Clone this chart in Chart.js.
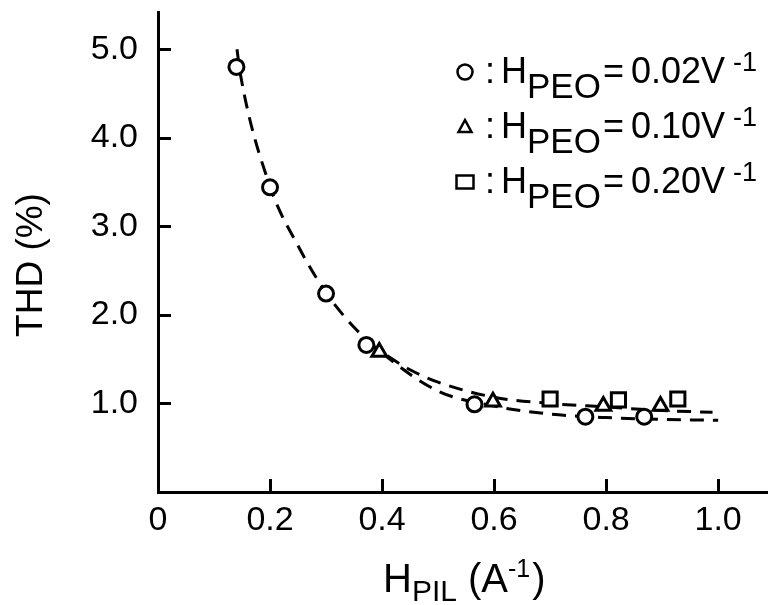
<!DOCTYPE html>
<html lang="en">
<head>
<meta charset="UTF-8" />
<title>THD vs H_PIL</title>
<script src="https://cdn.jsdelivr.net/npm/chart.js"></script>
<style>
  * { margin: 0; padding: 0; box-sizing: border-box; }
  body { background: #fff; width: 768px; height: 605px; overflow: hidden; }
  canvas { display: block; }
</style>
</head>
<body>
<canvas id="thdChart" width="768" height="605"></canvas>
<script>
  const circleX = [0.14, 0.20, 0.30, 0.372, 0.565, 0.763, 0.868];
  const circleY = [4.80, 3.44, 2.24, 1.66, 0.99, 0.85, 0.85];
  const triangleX = [0.395, 0.598, 0.795, 0.897];
  const triangleY = [1.58, 1.02, 0.97, 0.97];
  const squareX = [0.70, 0.822, 0.928];
  const squareY = [1.05, 1.04, 1.05];

  // dashed fit curves
  const fitLowX = [0.141, 0.147, 0.20, 0.25, 0.30, 0.35, 0.40, 0.50, 0.60, 0.70, 0.80, 0.90, 1.00];
  const fitLowY = [5.00, 4.72, 3.45, 2.78, 2.25, 1.86, 1.57, 1.14, 0.97, 0.88, 0.84, 0.82, 0.81];
  const fitHighX = [0.375, 0.45, 0.50, 0.60, 0.70, 0.80, 0.90, 0.99];
  const fitHighY = [1.68, 1.38, 1.24, 1.07, 1.00, 0.96, 0.92, 0.90];

  const xTicks = [0, 0.2, 0.4, 0.6, 0.8, 1.0];
  const xTickLabels = ['0', '0.2', '0.4', '0.6', '0.8', '1.0'];
  const yTicks = [1, 2, 3, 4, 5];
  const yTickLabels = ['1.0', '2.0', '3.0', '4.0', '5.0'];

  const legendShapes = ['circle', 'triangle', 'rect'];
  const legendValues = ['0.02', '0.10', '0.20'];

  const FONT = '"Liberation Sans", Arial, Helvetica, sans-serif';

  const pts = (xs, ys) => xs.map((x, i) => ({ x: x, y: ys[i] }));

  function drawShape(ctx, shape, x, y) {
    ctx.beginPath();
    if (shape === 'circle') {
      ctx.arc(x, y, 7.5, 0, Math.PI * 2);
    } else if (shape === 'triangle') {
      ctx.moveTo(x, y - 7);
      ctx.lineTo(x + 6.5, y + 5);
      ctx.lineTo(x - 6.5, y + 5);
      ctx.closePath();
    } else {
      ctx.rect(x - 8.5, y - 6.5, 17, 13);
    }
    ctx.fill();
    ctx.stroke();
  }

  // pieces of text with sub/superscripts
  function drawRich(ctx, parts, x, y) {
    parts.forEach(p => {
      ctx.font = p.size + 'px ' + FONT;
      x += p.gap || 0;
      ctx.fillText(p.t, x, y + (p.dy || 0));
      x += ctx.measureText(p.t).width;
    });
    return x;
  }

  const noPad = s => { s.paddingTop = 0; s.paddingBottom = 0; s.paddingLeft = 0; s.paddingRight = 0; };

  const decorations = {
    id: 'decorations',
    afterDraw(chart) {
      const ctx = chart.ctx;
      const xs = chart.scales.x, ys = chart.scales.y;
      const area = chart.chartArea;
      ctx.save();
      ctx.strokeStyle = '#000';
      ctx.fillStyle = '#000';
      ctx.lineWidth = 3;

      // inward tick marks
      ctx.beginPath();
      xTicks.forEach(v => {
        if (v === 0) return;
        const px = Math.round(xs.getPixelForValue(v)) + 0.5;
        ctx.moveTo(px, area.bottom);
        ctx.lineTo(px, area.bottom - 13);
      });
      yTicks.forEach(v => {
        const py = Math.round(ys.getPixelForValue(v)) + 0.5;
        ctx.moveTo(area.left, py);
        ctx.lineTo(area.left + 13, py);
      });
      ctx.stroke();

      // y title
      ctx.save();
      ctx.translate(42, 265);
      ctx.rotate(-Math.PI / 2);
      ctx.font = '37px ' + FONT;
      ctx.textAlign = 'center';
      ctx.textBaseline = 'alphabetic';
      ctx.fillText('THD (%)', 0, 0);
      ctx.restore();

      // x title
      ctx.textAlign = 'left';
      ctx.textBaseline = 'alphabetic';
      drawRich(ctx, [
        { t: 'H', size: 40 },
        { t: 'PIL', size: 30, dy: 9 },
        { t: ' (A', size: 40 },
        { t: '-1', size: 25, dy: -15 },
        { t: ')', size: 40, gap: 2 }
      ], 383, 592);

      // legend
      const rows = [83, 138, 193];
      legendShapes.forEach((shape, i) => {
        const by = rows[i];
        ctx.fillStyle = '#fff';
        ctx.lineWidth = 2.5;
        drawShape(ctx, shape, 465, by - 11);
        ctx.fillStyle = '#000';
        drawRich(ctx, [
          { t: ':', size: 36 },
          { t: 'H', size: 36, gap: 6 },
          { t: 'PEO', size: 35, dy: 15 },
          { t: '=', size: 36, gap: 2 },
          { t: legendValues[i] + 'V', size: 36, gap: 7 },
          { t: '-1', size: 27, dy: -12, gap: 8 }
        ], 485, by);
      });
      ctx.restore();
    }
  };

  const ctx = document.getElementById('thdChart').getContext('2d');
  new Chart(ctx, {
    type: 'scatter',
    data: {
      datasets: [
        {
          label: 'circles',
          data: pts(circleX, circleY),
          pointStyle: 'circle',
          pointRadius: 7.5,
          pointBorderWidth: 3,
          pointBackgroundColor: '#fff',
          pointBorderColor: '#000',
          order: 0
        },
        {
          label: 'triangles',
          data: pts(triangleX, triangleY),
          pointStyle: 'triangle',
          pointRadius: 8.5,
          pointBorderWidth: 3,
          pointBackgroundColor: '#fff',
          pointBorderColor: '#000',
          order: 0
        },
        {
          label: 'squares',
          data: pts(squareX, squareY),
          pointStyle: 'rect',
          pointRadius: 10,
          pointBorderWidth: 3,
          pointBackgroundColor: '#fff',
          pointBorderColor: '#000',
          order: 0
        },
        {
          label: 'fit low',
          data: pts(fitLowX, fitLowY),
          showLine: true,
          pointRadius: 0,
          borderColor: '#000',
          borderWidth: 3,
          borderDash: [14, 9],
          cubicInterpolationMode: 'monotone',
          order: 1
        },
        {
          label: 'fit high',
          data: pts(fitHighX, fitHighY),
          showLine: true,
          pointRadius: 0,
          borderColor: '#000',
          borderWidth: 3,
          borderDash: [14, 9],
          cubicInterpolationMode: 'monotone',
          order: 1
        }
      ]
    },
    options: {
      responsive: false,
      animation: false,
      layout: { autoPadding: false, padding: { top: 12, right: 0, left: 0, bottom: 0 } },
      plugins: {
        legend: { display: false },
        tooltip: { enabled: false }
      },
      scales: {
        x: {
          type: 'linear',
          min: 0,
          max: 1.089,
          afterFit: s => { s.height = 113; noPad(s); },
          afterBuildTicks: s => { s.ticks = xTicks.map(v => ({ value: v })); },
          grid: { display: false, drawTicks: false },
          border: { display: true, width: 3, color: '#000' },
          ticks: {
            padding: 8,
            color: '#000',
            font: { family: FONT, size: 34 },
            callback: (v, i) => xTickLabels[i]
          }
        },
        y: {
          type: 'linear',
          min: 0,
          max: 5.42,
          afterFit: s => { s.width = 158; noPad(s); },
          afterBuildTicks: s => { s.ticks = yTicks.map(v => ({ value: v })); },
          grid: { display: false, drawTicks: false },
          border: { display: true, width: 3, color: '#000' },
          ticks: {
            padding: 20,
            color: '#000',
            font: { family: FONT, size: 34 },
            callback: (v, i) => yTickLabels[i]
          }
        }
      }
    },
    plugins: [decorations]
  });
</script>
</body>
</html>
